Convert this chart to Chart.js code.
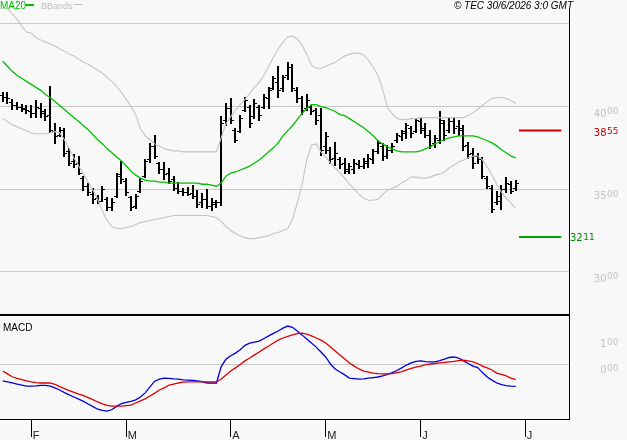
<!DOCTYPE html>
<html>
<head>
<meta charset="utf-8">
<title>TEC daily bars, MA20, BBands, MACD</title>
<script src="https://cdn.jsdelivr.net/npm/chart.js@4.4.1/dist/chart.umd.min.js"></script>
<style>
  html, body { margin: 0; padding: 0; background: #f8f8f8; }
  #wrap { position: relative; width: 627px; height: 440px; background: #f8f8f8; overflow: hidden; }
  #priceChart { position: absolute; left: 0; top: 0; }
  #macdChart { position: absolute; left: 0; top: 314px; }
</style>
</head>
<body>
<div id="wrap">
  <canvas id="priceChart" width="627" height="314"></canvas>
  <canvas id="macdChart" width="627" height="126"></canvas>
</div>
<script>
// ---- data (one entry per trading day, late Jan -> 29 Jun 2026) ----
const HIGH = [4087,4085,4043,4026,4018,4012,4012,4037,4024,3988,
  4124,3902,3878,3872,3750,3713,3701,3579,3537,3506,
  3463,3518,3451,3445,3598,3671,3567,3459,3469,3567,
  3683,3780,3829,3665,3665,3628,3579,3543,3506,3512,
  3524,3494,3476,3500,3445,3433,3945,4024,4049,3872,
  3951,4055,4012,4043,4012,4073,4116,4183,4244,4189,
  4268,4256,4116,4061,4073,4012,3994,3994,3848,3756,
  3787,3695,3689,3658,3683,3677,3689,3713,3744,3799,
  3780,3768,3780,3841,3860,3902,3884,3933,3933,3902,
  3860,3829,3970,3921,3933,3939,3921,3890,3787,3750,
  3720,3695,3579,3524,3488,3524,3573,3549,3555];
const LOW = [4032,4024,3988,3988,3970,3963,3939,3939,3939,3921,
  3843,3780,3823,3701,3646,3634,3591,3494,3463,3415,
  3415,3427,3372,3372,3451,3537,3463,3372,3384,3482,
  3573,3665,3689,3598,3561,3537,3494,3476,3463,3463,
  3445,3390,3390,3384,3372,3390,3402,3890,3902,3787,
  3848,3970,3878,3933,3921,3994,3994,4104,4055,4091,
  4165,4091,4030,3957,3982,3957,3896,3707,3720,3658,
  3646,3628,3598,3598,3598,3628,3628,3634,3658,3720,
  3677,3689,3726,3787,3799,3811,3817,3848,3841,3817,
  3750,3756,3780,3799,3848,3841,3829,3738,3689,3628,
  3658,3567,3506,3360,3408,3378,3482,3476,3494];
const OPEN = [4070,4060,4030,4010,4000,3990,3975,3960,3990,3970,
  3950,3850,3830,3860,3730,3670,3660,3570,3520,3470,
  3445,3430,3440,3390,3460,3580,3550,3450,3400,3490,
  3580,3680,3760,3660,3620,3600,3560,3510,3490,3480,
  3475,3460,3420,3440,3400,3410,3420,3920,3990,3860,
  3850,3980,4000,3940,4000,4000,4050,4110,4150,4110,
  4190,4240,4100,4050,3990,4000,3980,3950,3760,3740,
  3690,3680,3660,3620,3620,3650,3640,3660,3680,3730,
  3760,3700,3740,3800,3820,3840,3870,3850,3910,3870,
  3830,3780,3800,3900,3860,3910,3880,3870,3770,3720,
  3700,3680,3570,3510,3420,3430,3500,3530,3510];
const CLOSE = [4060,4050,4010,4000,3985,3980,3960,4000,3960,3940,
  3860,3820,3860,3720,3660,3650,3600,3520,3480,3440,
  3430,3500,3390,3420,3590,3560,3480,3390,3460,3550,
  3670,3760,3700,3620,3590,3550,3510,3490,3480,3470,
  3460,3410,3440,3400,3420,3420,3900,3990,3920,3800,
  3930,4040,3900,4020,3950,4060,4100,4170,4100,4180,
  4240,4110,4050,3980,4040,3970,3920,3740,3820,3680,
  3720,3650,3610,3640,3660,3640,3670,3690,3730,3780,
  3700,3740,3760,3830,3850,3890,3840,3920,3860,3830,
  3770,3810,3920,3830,3910,3870,3860,3760,3710,3660,
  3680,3580,3520,3380,3460,3500,3540,3490,3540];

const MA20 = [4274,4244,4213,4189,4171,4152,4134,4116,4098,4073,
  4055,4030,4006,3982,3957,3933,3909,3884,3860,3829,
  3799,3774,3744,3720,3695,3671,3640,3610,3585,3567,
  3555,3549,3549,3543,3543,3537,3537,3537,3537,3537,
  3537,3537,3530,3530,3524,3518,3537,3579,3598,3604,
  3616,3628,3640,3658,3677,3701,3726,3750,3780,3823,
  3854,3884,3921,3957,3988,4012,4012,4000,3994,3982,
  3970,3951,3945,3927,3909,3890,3872,3848,3823,3793,
  3774,3756,3744,3732,3726,3726,3726,3726,3732,3744,
  3756,3774,3787,3799,3811,3817,3823,3823,3823,3823,
  3817,3805,3793,3780,3762,3738,3720,3701,3689];
const BB_UP = [4628,4592,4561,4531,4488,4451,4445,4415,4402,4390,
  4378,4366,4348,4335,4317,4305,4287,4268,4256,4238,
  4220,4201,4177,4152,4122,4085,4043,4000,3951,3866,
  3823,3799,3774,3762,3744,3738,3732,3732,3726,3726,
  3726,3726,3726,3726,3726,3726,3811,3896,3939,3976,
  4012,4043,4079,4116,4146,4189,4244,4299,4348,4390,
  4421,4427,4409,4372,4317,4250,4232,4232,4244,4256,
  4268,4287,4305,4317,4323,4323,4311,4280,4238,4189,
  4104,3994,3957,3927,3921,3921,3927,3927,3933,3933,
  3933,3933,3933,3933,3933,3933,3933,3933,3945,3963,
  3982,4006,4030,4049,4055,4055,4049,4037,4018];
const BB_LO = [3927,3909,3890,3878,3866,3854,3841,3835,3835,3835,
  3841,3848,3841,3799,3744,3689,3640,3591,3543,3494,
  3439,3366,3311,3274,3262,3262,3268,3274,3286,3299,
  3305,3311,3317,3323,3329,3335,3341,3341,3341,3341,
  3341,3341,3341,3341,3335,3329,3305,3274,3250,3232,
  3219,3207,3201,3201,3207,3213,3219,3232,3238,3250,
  3262,3317,3415,3524,3677,3768,3774,3726,3695,3658,
  3628,3598,3567,3530,3500,3469,3445,3433,3433,3439,
  3469,3494,3506,3518,3537,3555,3573,3573,3567,3567,
  3573,3585,3591,3604,3628,3646,3665,3677,3689,3701,
  3701,3677,3634,3585,3530,3482,3445,3415,3384];

const MACD = [-65,-69,-73,-77,-81,-85,-85,-84,-82,-82,
  -85,-92,-100,-110,-119,-127,-135,-144,-154,-164,
  -174,-178,-181,-175,-163,-152,-148,-144,-138,-127,
  -111,-88,-66,-58,-54,-55,-57,-58,-61,-62,
  -63,-65,-68,-73,-73,-73,-10,18,32,42,
  55,72,80,84,88,98,108,118,127,138,
  146,141,127,112,96,81,65,46,27,0,
  -19,-31,-42,-54,-56,-58,-57,-54,-52,-50,
  -46,-40,-33,-25,-15,-4,4,10,12,9,
  8,8,13,19,25,27,23,12,2,-8,
  -14,-33,-50,-62,-73,-79,-83,-85,-86];
const SIGNAL = [-27,-38,-49,-55,-60,-65,-69,-72,-73,-73,
  -73,-78,-87,-95,-102,-109,-116,-122,-129,-137,
  -146,-153,-159,-162,-162,-162,-160,-158,-150,-142,
  -134,-123,-112,-100,-92,-81,-77,-73,-70,-69,
  -69,-69,-69,-69,-69,-69,-58,-42,-27,-15,
  -2,12,23,35,46,58,69,81,92,100,
  106,112,117,119,115,108,100,92,81,65,
  50,35,19,4,-8,-19,-27,-31,-35,-37,
  -38,-38,-37,-33,-29,-23,-17,-12,-8,-2,
  0,2,4,6,8,10,13,15,12,8,
  2,-8,-15,-23,-35,-40,-46,-54,-60];

// resistance / support levels shown at the right end
const LEVEL_HIGH = 3855;
const LEVEL_LOW = 3211;

// axis ticks
const PRICE_TICKS = [3000, 3500, 4000, 4500];
const PRICE_LABELS = [3000, 3500, 4000];
const MACD_TICKS = [0, 100];
const MONTH_TICKS = [6, 26, 48, 68, 88, 110];   // first trading day of each month
const MONTH_LABELS = ['F', 'M', 'A', 'M', 'J', 'J'];

// ---- layout ----
const X_MIN = -0.57, X_MAX = 119.22;
const AXIS_W = 58;
const GRID = '#c8c8c8';

const pts = arr => arr.map((v, i) => ({ x: i, y: v }));

/** Draw "4000" as "40" + raised small "00", the way the feed prints prices */
function splitLabel(ctx, text, xSplit, yBig, ySmall, color, alignLeft) {
  const big = text.slice(0, text.length - 2);
  const small = text.slice(-2);
  ctx.fillStyle = color;
  ctx.font = '10px "DejaVu Sans"';
  if (alignLeft) {
    ctx.textAlign = 'left';
    ctx.fillText(big, xSplit, yBig);
    const w = ctx.measureText(big).width;
    ctx.font = '9px "DejaVu Sans"';
    ctx.fillText(small, xSplit + w + 0.5, ySmall);
  } else {
    ctx.textAlign = 'right';
    ctx.fillText(big, xSplit, yBig);
    ctx.font = '9px "DejaVu Sans"';
    ctx.textAlign = 'left';
    ctx.fillText(small, xSplit + 0.5, ySmall);
  }
}

// OHLC bars, legend, copyright and price labels for the upper panel
const priceDecor = {
  id: 'priceDecor',
  beforeDatasetsDraw(chart) {
    const { ctx, chartArea: a, scales: { x, y } } = chart;
    ctx.save();
    ctx.beginPath();
    ctx.rect(a.left, a.top, a.right - a.left, a.bottom - a.top);
    ctx.clip();
    ctx.fillStyle = '#000';
    for (let i = 0; i < HIGH.length; i++) {
      const px = Math.round(x.getPixelForValue(i));
      const hi = Math.round(y.getPixelForValue(HIGH[i]));
      const lo = Math.round(y.getPixelForValue(LOW[i]));
      const op = Math.round(y.getPixelForValue(OPEN[i]));
      const cl = Math.round(y.getPixelForValue(CLOSE[i]));
      ctx.fillRect(px - 1, hi, 2, lo - hi + 1);
      ctx.fillRect(px - 3, op, 2, 1);
      ctx.fillRect(px + 1, cl, 2, 1);
    }
    ctx.restore();
  },
  afterDraw(chart) {
    const { ctx, scales: { y } } = chart;
    ctx.save();
    ctx.textBaseline = 'alphabetic';

    // legend
    ctx.font = '10px "Liberation Sans"';
    ctx.textAlign = 'left';
    ctx.fillStyle = '#00c000';
    ctx.fillText('MA20', 0, 8.5);
    ctx.fillRect(25, 4, 9, 2);
    ctx.font = '9px "Liberation Sans"';
    ctx.fillStyle = '#c0c0c0';
    ctx.fillText('BBands', 41, 8.5);
    ctx.fillRect(74, 4, 8, 1);

    // copyright
    ctx.font = 'italic 10px "Liberation Sans"';
    ctx.fillStyle = '#000';
    ctx.textAlign = 'right';
    ctx.fillText('\u00a9 TEC 30/6/2026 3:0 GMT', 573, 8.5);

    // price labels
    PRICE_LABELS.forEach(v => {
      const py = y.getPixelForValue(v);
      splitLabel(ctx, String(v), 606.5, py + 10, py + 7.5, '#c4c4c4', false);
    });
    const pH = y.getPixelForValue(LEVEL_HIGH);
    splitLabel(ctx, String(LEVEL_HIGH), 606.5, pH + 5.5, pH + 3.5, '#cc0000', false);
    const pL = y.getPixelForValue(LEVEL_LOW);
    splitLabel(ctx, String(LEVEL_LOW), 570, pL + 4, pL + 3.5, '#008800', true);
    ctx.restore();
  }
};

// separator, MACD caption, tick labels and month letters
const macdDecor = {
  id: 'macdDecor',
  afterDraw(chart) {
    const { ctx, chartArea: a, scales: { x, y } } = chart;
    ctx.save();
    ctx.fillStyle = '#000';
    ctx.fillRect(0, a.top - 2, a.right + 1, 2);

    ctx.font = '10px "Liberation Sans"';
    ctx.textAlign = 'left';
    ctx.textBaseline = 'alphabetic';
    ctx.fillText('MACD', 3, 17.3);

    MACD_TICKS.forEach(v => {
      const py = y.getPixelForValue(v);
      splitLabel(ctx, String(v / 100) + '00', 606.5, py + 9.3, py + 7, '#c4c4c4', false);
    });

    ctx.fillStyle = '#222';
    ctx.font = '11px "Liberation Sans"';
    ctx.textAlign = 'left';
    MONTH_TICKS.forEach((v, i) => {
      const px = x.getPixelForValue(v);
      ctx.fillText(MONTH_LABELS[i], px + 1.5, 124.5);
    });
    ctx.restore();
  }
};

const lineDs = (label, data, color, width) => ({
  type: 'line', label, data, borderColor: color, borderWidth: width || 1,
  pointRadius: 0, tension: 0, fill: false
});

const common = {
  responsive: false,
  animation: false,
  devicePixelRatio: 1,
  events: [],
  plugins: { legend: { display: false }, tooltip: { enabled: false } }
};

new Chart(document.getElementById('priceChart'), {
  type: 'line',
  data: {
    datasets: [
      lineDs('MA20', pts(MA20), '#00c000', 1.3),
      lineDs('BB upper', pts(BB_UP), '#c4c4c4', 1.1),
      lineDs('BB lower', pts(BB_LO), '#c4c4c4', 1.1),
      lineDs('Resistance', [{ x: 108.7, y: LEVEL_HIGH }, { x: 117.6, y: LEVEL_HIGH }], '#cc0000', 2),
      lineDs('Support', [{ x: 108.7, y: LEVEL_LOW }, { x: 117.6, y: LEVEL_LOW }], '#00aa00', 2)
    ]
  },
  options: {
    ...common,
    layout: { padding: { top: 9, left: 0, right: 0, bottom: 0 } },
    scales: {
      x: { type: 'linear', display: false, min: X_MIN, max: X_MAX, offset: false },
      y: {
        type: 'linear', position: 'right', min: 2745, max: 4590,
        afterBuildTicks: s => { s.ticks = PRICE_TICKS.map(v => ({ value: v })); },
        afterFit: s => { s.width = AXIS_W; },
        grid: { color: GRID, drawTicks: false },
        border: { color: '#000', width: 1 },
        ticks: { display: false }
      }
    }
  },
  plugins: [priceDecor]
});

new Chart(document.getElementById('macdChart'), {
  type: 'line',
  data: {
    datasets: [
      lineDs('Signal', pts(SIGNAL), '#dd0000', 1.3),
      lineDs('MACD', pts(MACD), '#0000dd', 1.3)
    ]
  },
  options: {
    ...common,
    layout: { padding: { top: 2, left: 0, right: 0, bottom: 0 } },
    scales: {
      x: {
        type: 'linear', position: 'bottom', min: X_MIN, max: X_MAX, offset: false,
        afterBuildTicks: s => { s.ticks = MONTH_TICKS.map(v => ({ value: v })); },
        afterFit: s => { s.height = 21; },
        grid: { drawOnChartArea: false, drawTicks: true, tickLength: 18, color: '#000' },
        border: { color: '#000', width: 1 },
        ticks: { display: false }
      },
      y: {
        type: 'linear', position: 'right', min: -211.5, max: 184.6,
        afterBuildTicks: s => { s.ticks = MACD_TICKS.map(v => ({ value: v })); },
        afterFit: s => { s.width = AXIS_W; },
        grid: { color: c => (c.tick && c.tick.value === 0 ? GRID : 'rgba(0,0,0,0)'), drawTicks: false },
        border: { color: '#000', width: 1 },
        ticks: { display: false }
      }
    }
  },
  plugins: [macdDecor]
});
</script>
</body>
</html>
